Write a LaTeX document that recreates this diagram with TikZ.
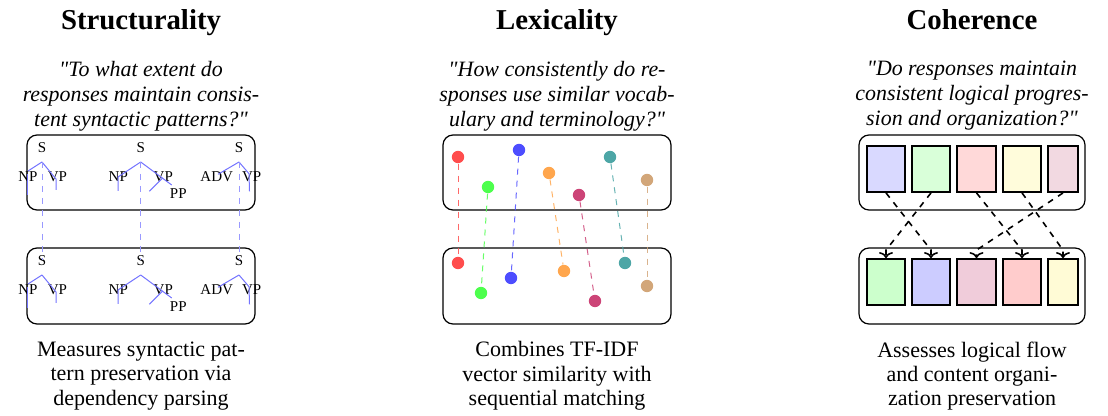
\documentclass[tikz,border=0pt]{standalone}
\usepackage{fontspec}
\setmainfont{Liberation Serif}
\usetikzlibrary{arrows.meta}

% dot colours
\definecolor{dotred}{HTML}{FF4D4D}
\definecolor{dotgreen}{HTML}{4DFF4D}
\definecolor{dotblue}{HTML}{4D4DFF}
\definecolor{dotorange}{HTML}{FFA64D}
\definecolor{dotmagenta}{HTML}{CC4477}
\definecolor{dotteal}{HTML}{4DA6A6}
\definecolor{dottan}{HTML}{D2A679}
% block colours
\definecolor{blkblue}{HTML}{D9D9FF}
\definecolor{blkgreen}{HTML}{D9FFD9}
\definecolor{blkred}{HTML}{FFD9D9}
\definecolor{blkyellow}{HTML}{FFFCDB}
\definecolor{blkpink}{HTML}{F2D9E1}
\definecolor{blkgreenb}{HTML}{CCFFCC}
\definecolor{blkblueb}{HTML}{CCCCFF}
\definecolor{blkpinkb}{HTML}{F0CCDA}
\definecolor{blkredb}{HTML}{FFCCCC}
\definecolor{blkyellowb}{HTML}{FFFBD6}

\newcommand{\dq}{\textquotedbl}

\begin{document}
\begin{tikzpicture}[x=0.5pt,y=-0.5pt,
  title/.style={font=\fontsize{14.4}{18}\selectfont\bfseries, anchor=base, inner sep=0pt},
  question/.style={font=\fontsize{10.95}{12.5}\selectfont\itshape, align=center, inner sep=0pt},
  desc/.style={font=\fontsize{11}{12.2}\selectfont, align=center, inner sep=0pt},
  panel/.style={draw, rounded corners=5pt, line width=0.6pt},
  treeedge/.style={draw=blue!55, line width=0.5pt},
  tlabel/.style={font=\fontsize{7.5}{8}\selectfont, inner sep=0pt},
  treelink/.style={draw=blue!40, dashed, line width=0.5pt},
  dot/.style={circle, fill=#1, minimum size=6.2pt, inner sep=0pt},
  dotlink/.style={draw=#1, dashed, line width=0.5pt, opacity=0.85},
  block/.style={draw, line width=0.9pt, fill=#1, minimum height=23pt, inner sep=0pt},
  flow/.style={draw, dashed, line width=0.8pt, -{To[length=3pt,width=7pt]}}
]
\useasboundingbox (0,0) rectangle (1108,416);

% ---------- headings ----------
\node[title] (h1) at (141,30) {Structurality};
\node[title] (h2) at (557,30) {Lexicality};
\node[title] (h3) at (972,30) {Coherence};

\node[question] (q1) at (141,96) {\dq To what extent do\\responses maintain consis-\\tent syntactic patterns?\dq};
\node[question] (q2) at (557,96) {\dq How consistently do re-\\sponses use similar vocab-\\ulary and terminology?\dq};
\node[question] (q3) at (972,96) {\dq Do responses maintain\\consistent logical progres-\\sion and organization?\dq};

% ---------- panels ----------
\node[panel, minimum width=114pt, minimum height=37.5pt] (p1t) at (141,172.5) {};
\node[panel, minimum width=114pt, minimum height=38pt] (p1b) at (141,286) {};
\node[panel, minimum width=114pt, minimum height=37.5pt] (p2t) at (557,172.5) {};
\node[panel, minimum width=114pt, minimum height=38pt] (p2b) at (557,286) {};
\node[panel, minimum width=113pt, minimum height=37.5pt] (p3t) at (972,172.5) {};
\node[panel, minimum width=113pt, minimum height=38pt] (p3b) at (972,286) {};

% ---------- syntax trees ----------
\foreach \dy/\tag in {0/t, 113/b} {
  % tree 1: S -> NP VP
  \begin{scope}[shift={(42,162+\dy)}]
    \coordinate (ra\tag) at (0,0);
    \coordinate (ua\tag) at (0,-15);
    \node[tlabel] (sa\tag) at (0,-14) {S};
    \node[tlabel] (npa\tag) at (-14,15) {NP};
    \node[tlabel] (vpa\tag) at (15.5,15) {VP};
    \draw[treeedge] (0,0) -- (-14,9);
    \draw[treeedge] (-15,12) -- (-15,33);
    \draw[treeedge] (0,0) -- (14,17) -- (14,28);
  \end{scope}
  % tree 2: S -> NP VP(PP)
  \begin{scope}[shift={(140.7,162+\dy)}]
    \coordinate (rb\tag) at (0,0);
    \coordinate (ub\tag) at (0,-15);
    \node[tlabel] (sb\tag) at (0,-14) {S};
    \node[tlabel] (npb\tag) at (-22.4,15) {NP};
    \node[tlabel] (vpb\tag) at (22.6,15) {VP};
    \node[tlabel] (ppb\tag) at (37.6,31.6) {PP};
    \draw[treeedge] (0,0) -- (-22.7,15) -- (-22.7,29);
    \draw[treeedge] (0,0) -- (31,23);
    \draw[treeedge] (22,16) -- (8.6,29.3);
  \end{scope}
  % tree 3: S -> ADV VP
  \begin{scope}[shift={(239,162+\dy)}]
    \coordinate (rc\tag) at (0,0);
    \coordinate (uc\tag) at (0,-15);
    \node[tlabel] (sc\tag) at (0,-14) {S};
    \node[tlabel] (advc\tag) at (-22.3,15) {ADV};
    \node[tlabel] (vpc\tag) at (12.7,15) {VP};
    \draw[treeedge] (0,0) -- (-21,12.3);
    \draw[treeedge] (0,0) -- (10,11.7) -- (10.5,29.3);
  \end{scope}
}
\draw[treelink] (rat) -- (uab);
\draw[treelink] (rbt) -- (ubb);
\draw[treelink] (rct) -- (ucb);

% ---------- vocabulary dots ----------
\node[dot=dotred]     (d1t) at (458,157) {};
\node[dot=dotgreen]   (d2t) at (488,187) {};
\node[dot=dotblue]    (d3t) at (519,150) {};
\node[dot=dotorange]  (d4t) at (549,173) {};
\node[dot=dotmagenta] (d5t) at (579,195) {};
\node[dot=dotteal]    (d6t) at (610,157) {};
\node[dot=dottan]     (d7t) at (647,180) {};

\node[dot=dotred]     (d1b) at (458,263) {};
\node[dot=dotgreen]   (d2b) at (481,293) {};
\node[dot=dotblue]    (d3b) at (511,278) {};
\node[dot=dotorange]  (d4b) at (564,271) {};
\node[dot=dotmagenta] (d5b) at (595,301) {};
\node[dot=dotteal]    (d6b) at (625,263) {};
\node[dot=dottan]     (d7b) at (647,286) {};

\draw[dotlink=dotred]     (d1t) -- (d1b);
\draw[dotlink=dotgreen]   (d2t) -- (d2b);
\draw[dotlink=dotblue]    (d3t) -- (d3b);
\draw[dotlink=dotorange]  (d4t) -- (d4b);
\draw[dotlink=dotmagenta] (d5t) -- (d5b);
\draw[dotlink=dotteal]    (d6t) -- (d6b);
\draw[dotlink=dottan]     (d7t) -- (d7b);

% ---------- content blocks ----------
\node[block=blkblue,   minimum width=19pt]   (c1t) at (886,169) {};
\node[block=blkgreen,  minimum width=19pt]   (c2t) at (931,169) {};
\node[block=blkred,    minimum width=19.5pt] (c3t) at (976.5,169) {};
\node[block=blkyellow, minimum width=19pt]   (c4t) at (1022,169) {};
\node[block=blkpink,   minimum width=15pt]   (c5t) at (1063,169) {};

\node[block=blkgreenb,  minimum width=19pt]   (c1b) at (886,282) {};
\node[block=blkblueb,   minimum width=19pt]   (c2b) at (931,282) {};
\node[block=blkpinkb,   minimum width=19.5pt] (c3b) at (976.5,282) {};
\node[block=blkredb,    minimum width=19pt]   (c4b) at (1022,282) {};
\node[block=blkyellowb, minimum width=15pt]   (c5b) at (1063,282) {};

% reordering arrows: straight dashed run, short vertical entry into each block
\draw[flow] (c1t.south) -- ([yshift=4pt]c2b.north) -- (c2b.north);
\draw[flow] (c2t.south) -- ([yshift=4pt]c1b.north) -- (c1b.north);
\draw[flow] (c3t.south) -- ([yshift=4pt]c4b.north) -- (c4b.north);
\draw[flow] (c4t.south) -- ([yshift=4pt]c5b.north) -- (c5b.north);
\draw[flow] (c5t.south) -- ([yshift=4pt]c3b.north) -- (c3b.north);

% ---------- descriptions ----------
\node[desc] (e1) at (141,376) {Measures syntactic pat-\\tern preservation via\\dependency parsing};
\node[desc] (e2) at (557,376) {Combines TF-IDF\\vector similarity with\\sequential matching};
\node[desc] (e3) at (972,376) {Assesses logical flow\\and content organi-\\zation preservation};
\end{tikzpicture}
\end{document}
